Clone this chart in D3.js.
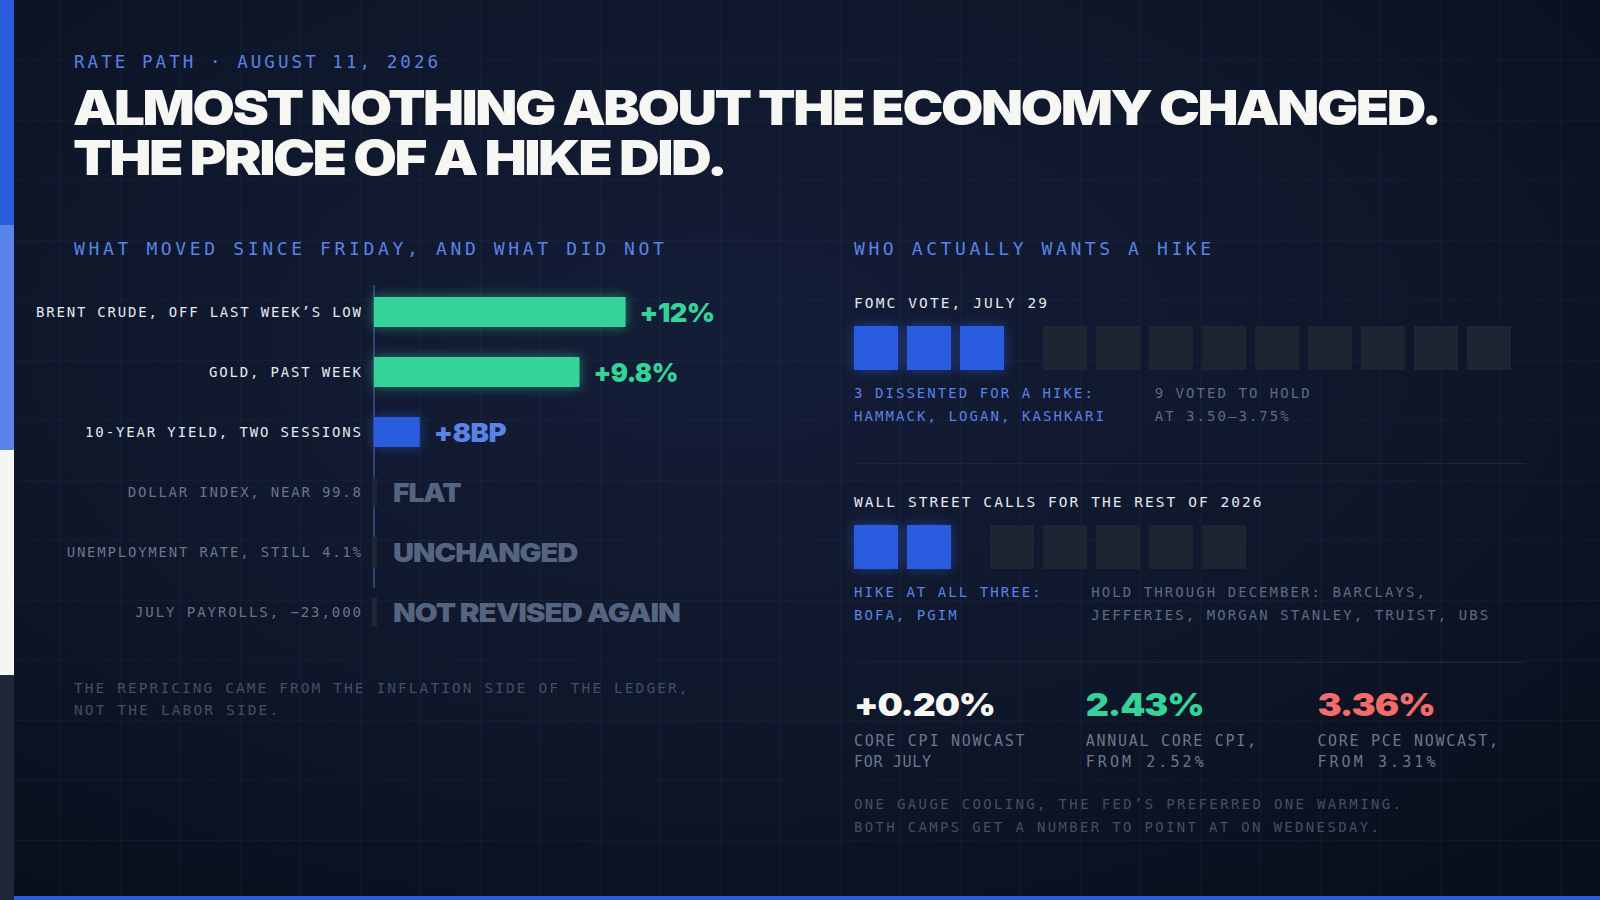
<!DOCTYPE html>
<html><head><meta charset="utf-8">
<script src="https://cdn.jsdelivr.net/npm/d3@7"></script>
<style>
html,body{margin:0;padding:0;background:#0c1221;overflow:hidden;}
svg{display:block;}
.mono{font-family:"DejaVu Sans Mono","Liberation Mono",monospace;}
.heavy{font-family:Inter,"Noto Sans",sans-serif;font-weight:900;}
</style></head><body>
<svg id="chart" width="1600" height="900"></svg>
<script>
// ---------- DATA ----------
const kicker = "RATE PATH · AUGUST 11, 2026";
const headline = ["ALMOST NOTHING ABOUT THE ECONOMY CHANGED.", "THE PRICE OF A HIKE DID."];

const leftHeading = "WHAT MOVED SINCE FRIDAY, AND WHAT DID NOT";
const moveLabels = ["BRENT CRUDE, OFF LAST WEEK’S LOW", "GOLD, PAST WEEK", "10-YEAR YIELD, TWO SESSIONS",
                    "DOLLAR INDEX, NEAR 99.8", "UNEMPLOYMENT RATE, STILL 4.1%", "JULY PAYROLLS, −23,000"];
const moveValues = [12, 9.8, 8, 0, 0, 0];
const moveUnits  = ["pct", "pct", "bp", "none", "none", "none"];
const moveText   = ["+12%", "+9.8%", "+8BP", "FLAT", "UNCHANGED", "NOT REVISED AGAIN"];
const leftNote = ["THE REPRICING CAME FROM THE INFLATION SIDE OF THE LEDGER,", "NOT THE LABOR SIDE."];

const rightHeading = "WHO ACTUALLY WANTS A HIKE";
const voteTitles = ["FOMC VOTE, JULY 29", "WALL STREET CALLS FOR THE REST OF 2026"];
const hikeCounts = [3, 2];
const holdCounts = [9, 5];
const hikeNotes = [["3 DISSENTED FOR A HIKE:", "HAMMACK, LOGAN, KASHKARI"], ["HIKE AT ALL THREE:", "BOFA, PGIM"]];
const holdNotes = [["9 VOTED TO HOLD", "AT 3.50–3.75%"], ["HOLD THROUGH DECEMBER: BARCLAYS,", "JEFFERIES, MORGAN STANLEY, TRUIST, UBS"]];

const statValues = [0.20, 2.43, 3.36];
const statSigned = [true, false, false];
const statLabels = [["CORE CPI NOWCAST", "FOR JULY"], ["ANNUAL CORE CPI,", "FROM 2.52%"], ["CORE PCE NOWCAST,", "FROM 3.31%"]];
const rightNote = ["ONE GAUGE COOLING, THE FED’S PREFERRED ONE WARMING.", "BOTH CAMPS GET A NUMBER TO POINT AT ON WEDNESDAY."];

// ---------- STYLE ----------
const C = {
  blue: "#2b5ce0", blueLt: "#5b82e6", green: "#34d399", red: "#f36b6b", white: "#f6f6f2",
  label: "#e4e8ef", grey: "#6b7489", flat: "#56657f", dim: "#434f66", hold: "#1f2433",
  stub: "#1e2535", axis: "#2b4476", rule: "#1d2538", statLabel: "#6b778c"
};
const stripeColors = ["#2b5ce0", "#5b84e8", "#f5f5f1", "#1e2638"];

const svg = d3.select("#chart");
const defs = svg.append("defs");
const rg = defs.append("radialGradient").attr("id", "bg").attr("cx", "45%").attr("cy", "38%").attr("r", "75%");
rg.append("stop").attr("offset", "0%").attr("stop-color", "#141d37");
rg.append("stop").attr("offset", "55%").attr("stop-color", "#0f172b");
rg.append("stop").attr("offset", "100%").attr("stop-color", "#0a0f1c");

function glow(id, std, op) {
  const f = defs.append("filter").attr("id", id).attr("x", "-60%").attr("y", "-60%").attr("width", "220%").attr("height", "220%");
  f.append("feGaussianBlur").attr("in", "SourceGraphic").attr("stdDeviation", std).attr("result", "b");
  f.append("feComponentTransfer").attr("in", "b").attr("result", "b2").append("feFuncA").attr("type", "linear").attr("slope", op);
  const m = f.append("feMerge");
  m.append("feMergeNode").attr("in", "b2");
  m.append("feMergeNode").attr("in", "SourceGraphic");
}
glow("glow", 6, 0.55);

svg.append("rect").attr("width", 1600).attr("height", 900).attr("fill", "url(#bg)");

// grid
const grid = svg.append("g").attr("stroke", "rgba(110,140,220,0.055)").attr("stroke-width", 1);
grid.selectAll("line.v").data(d3.range(60, 1600, 60)).join("line").attr("class", "v")
  .attr("x1", d => d + 0.5).attr("x2", d => d + 0.5).attr("y1", 0).attr("y2", 900);
grid.selectAll("line.h").data(d3.range(60, 900, 60)).join("line").attr("class", "h")
  .attr("y1", d => d + 0.5).attr("y2", d => d + 0.5).attr("x1", 0).attr("x2", 1600);

// left stripe
const yStripe = d3.scaleBand().domain(d3.range(stripeColors.length)).range([0, 900]);
svg.selectAll("rect.stripe").data(stripeColors).join("rect").attr("class", "stripe")
  .attr("x", 0).attr("width", 14).attr("y", (d, i) => yStripe(i)).attr("height", yStripe.bandwidth()).attr("fill", d => d);
svg.append("rect").attr("x", 14).attr("y", 896).attr("width", 1586).attr("height", 4).attr("fill", C.blue);

// mono text helper: fit ink width via letter-spacing
function txt(g, s, o) {
  const t = g.append("text").attr("x", o.x).attr("y", o.y).attr("class", "mono")
    .attr("font-size", o.size).attr("fill", o.fill).attr("text-anchor", o.anchor || "start").text(s);
  if (o.w) {
    const n = [...s].length;
    const nat = t.node().getComputedTextLength();
    const ls = (o.w - nat) / (n - 1);
    t.attr("letter-spacing", ls.toFixed(2));
    if (o.anchor === "end") t.attr("x", o.x + ls);
  }
  return t;
}
// heavy display text: tight tracking, then widened horizontally to the measured width
function heavy(g, s, o) {
  const wrap = g.append("g").attr("transform", `translate(${o.x},${o.y})`);
  const lsem = o.ls ?? 0.035;
  const t = wrap.append("text").attr("x", 0).attr("y", 0).attr("class", "heavy")
    .attr("font-size", o.size).attr("fill", o.fill)
    .attr("letter-spacing", (-lsem * o.size).toFixed(2)).text(s);
  const nat = t.node().getComputedTextLength() + lsem * o.size;
  const sx = o.w / nat;
  wrap.attr("transform", `translate(${o.x},${o.y}) scale(${sx.toFixed(4)},1)`);
  return t;
}

const g = svg.append("g");

// header
txt(g, kicker, {x: 74, y: 67.7, size: 17.5, fill: C.blueLt, w: 364});
heavy(g, headline[0], {x: 73, y: 125, size: 48, fill: C.white, w: 1369, ls: 0.045});
heavy(g, headline[1], {x: 73, y: 175, size: 48, fill: C.white, w: 655, ls: 0.045});

// ---------- LEFT: moves ----------
txt(g, leftHeading, {x: 74, y: 255, size: 18, fill: C.blueLt, w: 590});

const barX0 = 374;
const xPct = d3.scaleLinear().domain([0, 12]).range([0, 251.6]);
const xBp = d3.scaleLinear().domain([0, 44]).range([0, 251.6]);
const yRow = d3.scaleBand().domain(d3.range(moveLabels.length)).range([282, 642]).paddingInner(0.5).paddingOuter(0.25);
const barW = i => moveUnits[i] === "pct" ? xPct(moveValues[i]) : moveUnits[i] === "bp" ? xBp(moveValues[i]) : 0;
const barColor = i => moveUnits[i] === "pct" ? C.green : C.blue;

g.append("line").attr("x1", barX0).attr("x2", barX0).attr("y1", 285).attr("y2", 588)
  .attr("stroke", C.axis).attr("stroke-width", 2);

moveLabels.forEach((lab, i) => {
  const cy = yRow(i) + yRow.bandwidth() / 2;
  const moved = moveUnits[i] !== "none";
  txt(g, lab, {x: 361, y: cy + 5, size: 14, fill: moved ? C.label : C.grey, anchor: "end",
    w: [325, 152, 276, 233.3, 294.3, 226][i]});
  if (moved) {
    g.append("rect").attr("x", barX0).attr("y", yRow(i)).attr("width", barW(i)).attr("height", yRow.bandwidth())
      .attr("fill", barColor(i)).attr("filter", "url(#glow)");
    heavy(g, moveText[i], {x: barX0 + barW(i) + 14, y: cy + 9.5, size: 26,
      fill: moveUnits[i] === "pct" ? C.green : C.blueLt, w: [75.5, 85, 73][i], ls: 0.02});
  } else {
    g.append("rect").attr("x", barX0 - 2).attr("y", yRow(i)).attr("width", 5).attr("height", yRow.bandwidth()).attr("fill", C.stub);
    heavy(g, moveText[i], {x: 393, y: cy + 9.5, size: 26, fill: C.flat, w: [68.5, 185.5, 288][i - 3], ls: 0.035});
  }
});

txt(g, leftNote[0], {x: 74, y: 693, size: 14.5, fill: C.dim, w: 613.8});
txt(g, leftNote[1], {x: 74, y: 715, size: 14.5, fill: C.dim, w: 204.3});

// ---------- RIGHT: votes ----------
const RX = 854;
txt(g, rightHeading, {x: RX, y: 255, size: 18, fill: C.blueLt, w: 357});

const sq = 44, step = 53, groupGap = 30;
const voteY = [326, 525];
const titleY = [308, 507];
const noteY = [398, 597];
const holdNoteX = [1154.7, 1091.3];
const titleW = [193, 407.6];
const hikeNoteW = [[239, 250], [186.6, 102.7]];
const holdNoteW = [[155, 134], [333.5, 397]];

voteTitles.forEach((t, k) => {
  txt(g, t, {x: RX, y: titleY[k], size: 14.5, fill: C.label, w: titleW[k]});
  const n = hikeCounts[k] + holdCounts[k];
  const xs = d3.scaleLinear().domain([0, 1]).range([RX, RX + step]);
  const cells = d3.range(n).map(i => ({i, hike: i < hikeCounts[k]}));
  g.selectAll("rect.v" + k).data(cells).join("rect").attr("class", "v" + k)
    .attr("x", d => xs(d.i) + (d.hike ? 0 : groupGap)).attr("y", voteY[k])
    .attr("width", sq).attr("height", sq)
    .attr("fill", d => d.hike ? C.blue : C.hold)
    .attr("filter", d => d.hike ? "url(#glow)" : null);
  hikeNotes[k].forEach((s, j) => txt(g, s, {x: RX, y: noteY[k] + j * 22.5, size: 14, fill: C.blueLt, w: hikeNoteW[k][j]}));
  holdNotes[k].forEach((s, j) => txt(g, s, {x: holdNoteX[k], y: noteY[k] + j * 22.5, size: 14, fill: "#5f6b82", w: holdNoteW[k][j]}));
});

[463, 662].forEach(y => g.append("line").attr("x1", RX).attr("x2", 1526).attr("y1", y + 0.5).attr("y2", y + 0.5)
  .attr("stroke", C.rule).attr("stroke-width", 1));

// stats
const statX = d3.scaleLinear().domain([0, 1]).range([RX, RX + 231.7]);
const statColors = [C.white, C.green, C.red];
const statW = [142, 119, 118.5];
const fmt = (v, signed) => (signed ? d3.format("+.2f")(v) : d3.format(".2f")(v)) + "%";
statValues.forEach((v, i) => {
  heavy(g, fmt(v, statSigned[i]), {x: statX(i), y: 715.5, size: 32, fill: statColors[i], w: statW[i], ls: 0.03});
  statLabels[i].forEach((s, j) => txt(g, s, {x: statX(i), y: 746 + j * 21, size: 15, fill: C.statLabel,
    w: [[170.6, 77], [170.5, 118], [180.8, 118]][i][j]}));
});

txt(g, rightNote[0], {x: RX, y: 809, size: 14, fill: C.dim, w: 547});
txt(g, rightNote[1], {x: RX, y: 832, size: 14, fill: C.dim, w: 525});
</script>
</body></html>
